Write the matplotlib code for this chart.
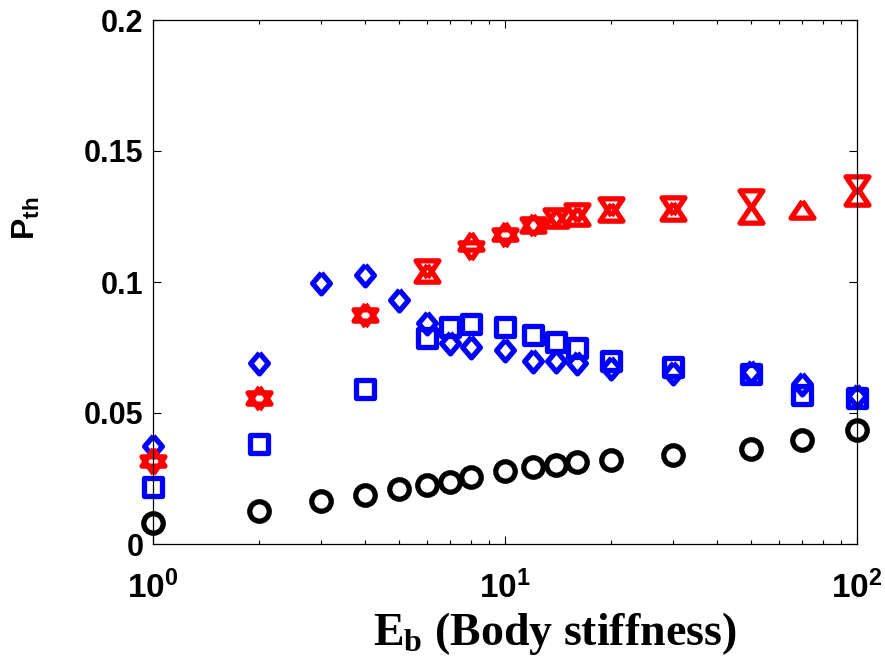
import numpy as np
import matplotlib
matplotlib.use("Agg")
import matplotlib.pyplot as plt
from matplotlib.markers import MarkerStyle
from matplotlib.ticker import NullFormatter, FixedLocator

plt.rcParams["mathtext.fontset"] = "custom"
plt.rcParams["mathtext.bf"] = "Liberation Sans:bold"
plt.rcParams["mathtext.rm"] = "Liberation Serif:bold"
plt.rcParams["mathtext.it"] = "Liberation Serif:bold"

# body stiffness values
eb_all = [1, 2, 3, 4, 5, 6, 7, 8, 10, 12, 14, 16, 20, 30, 50, 70, 100]
eb_sq = [1, 2, 4, 6, 7, 8, 10, 12, 14, 16, 20, 30, 50, 70, 100]
eb_up = [1, 2, 4, 6, 8, 10, 12, 14, 16, 20, 30, 50, 70, 100]
eb_dn = [1, 2, 4, 6, 8, 10, 12, 14, 16, 20, 30, 50, 100]

p_circle = [0.008, 0.0126, 0.0165, 0.0187, 0.0209, 0.0225, 0.0236, 0.0256, 0.0280,
            0.0293, 0.0303, 0.0312, 0.0320, 0.0340, 0.0363, 0.0397, 0.0435]
p_square = [0.0218, 0.0380, 0.0590, 0.0786, 0.0830, 0.0840, 0.0830, 0.0797, 0.0772,
            0.0748, 0.0700, 0.0675, 0.0647, 0.0569, 0.0557]
p_diamond = [0.0374, 0.0691, 0.0997, 0.1027, 0.0931, 0.0843, 0.0767, 0.0752, 0.0740,
             0.0698, 0.0698, 0.0692, 0.0672, 0.0653, 0.0656, 0.0611, 0.0565]
p_up = [0.0320, 0.0557, 0.0874, 0.1023, 0.1146, 0.1184, 0.1215, 0.1234, 0.1241,
        0.1256, 0.1260, 0.1249, 0.1268, 0.1318]
p_dn = [0.0312, 0.0557, 0.0874, 0.1060, 0.1128, 0.1179, 0.1222, 0.1255, 0.1274,
        0.1297, 0.1301, 0.1327, 0.1381]

yticks = [0, 0.05, 0.1, 0.15, 0.2]
ytick_labels = ["0", "0.05", "0.1", "0.15", "0.2"]
xticks = [1, 10, 100]
xtick_labels = [r"$\mathbf{10^{0}}$", r"$\mathbf{10^{1}}$", r"$\mathbf{10^{2}}$"]

# MATLAB-like markers (triangles centred on centroid)
tri_up = MarkerStyle([(0, 0.987), (-1, -0.493), (1, -0.493), (0, 0.987)], joinstyle="round")
tri_dn = MarkerStyle([(0, -0.987), (-1, 0.493), (1, 0.493), (0, -0.987)], joinstyle="round")
diam = MarkerStyle([(0, 1), (0.85, 0), (0, -1), (-0.85, 0), (0, 1)], joinstyle="round")
sq = MarkerStyle("s", joinstyle="round")

fig = plt.figure(figsize=(8.85, 6.65), dpi=100)
ax = fig.add_axes([153 / 885, 1 - 544 / 665, (857 - 153) / 885, (544 - 20) / 665])

kw = dict(linestyle="none", markerfacecolor="none", clip_on=False)
ax.plot(eb_all, p_circle, marker="o", ms=14, mew=3.8, color="black", **kw)
ax.plot(eb_sq, p_square, marker=sq, ms=13, mew=3.8, color="blue", **kw)
ax.plot(eb_all, p_diamond, marker=diam, ms=15, mew=3.8, color="blue", **kw)
ax.plot(eb_up, p_up, marker=tri_up, ms=16.5, mew=3.8, color="red", **kw)
ax.plot(eb_dn, p_dn, marker=tri_dn, ms=16.5, mew=3.8, color="red", **kw)

ax.set_xscale("log")
ax.set_xlim(1, 100)
ax.set_ylim(0, 0.2)
ax.xaxis.set_major_locator(FixedLocator(xticks))
ax.set_xticklabels(xtick_labels)
ax.xaxis.set_minor_formatter(NullFormatter())
ax.set_yticks(yticks)
ax.set_yticklabels(ytick_labels, fontfamily="Liberation Sans", fontweight="bold", fontsize=22)
for lab in ax.get_xticklabels():
    lab.set_fontsize(24)

ax.tick_params(which="both", direction="in", top=True, right=True, width=0.8)
ax.tick_params(which="major", length=6)
ax.tick_params(which="minor", length=3)
ax.tick_params(axis="y", pad=7)
ax.tick_params(axis="x", pad=19)
for s in ax.spines.values():
    s.set_linewidth(0.9)

fig.text(555 / 885, 1 - 645 / 665, r"$\mathrm{E_b}$ (Body stiffness)", ha="center",
         va="baseline", fontfamily="Liberation Serif", fontweight="bold", fontsize=33)
fig.text(26 / 885, 1 - 218 / 665, r"$\mathbf{P_{th}}$", rotation=90, ha="center",
         va="center", fontsize=23)

fig.savefig("out.png", dpi=100)
